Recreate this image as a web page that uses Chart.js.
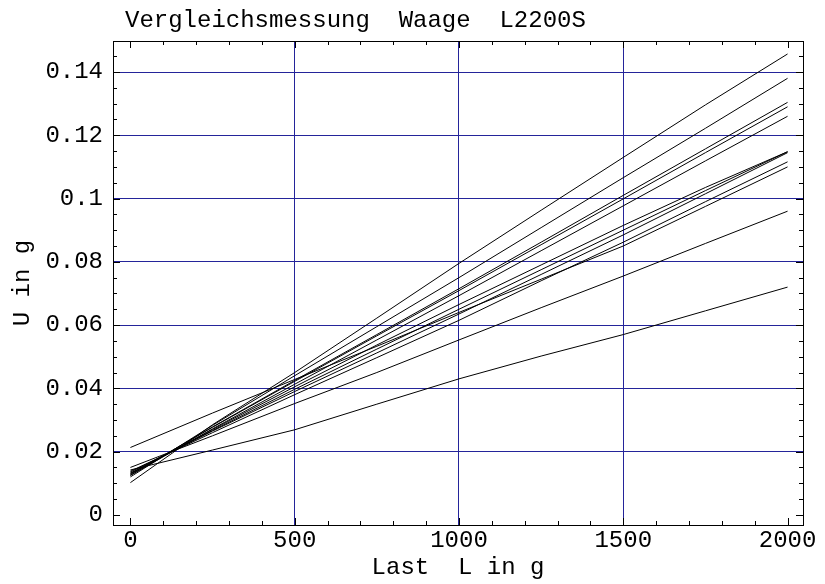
<!DOCTYPE html>
<html lang="de">
<head>
    <meta charset="UTF-8">
    <title>Vergleichsmessung Waage L2200S</title>
    <script src="https://cdn.jsdelivr.net/npm/chart.js"></script>
    <style>
        html, body { margin: 0; padding: 0; background: #fff; }
        #wrap { width: 825px; height: 584px; }
    </style>
</head>
<body>
    <div id="wrap"><canvas id="chart" width="825" height="584"></canvas></div>

    <script>
        // Messpunkte (Last in g)
        const loads = [0, 250, 500, 750, 1000, 1250, 1500, 1750, 2000];

        // Unsicherheit U in g, eine Kurve pro Messreihe
        const serieA = [0.0102, 0.0285, 0.0450, 0.0622, 0.0795, 0.0963, 0.1130, 0.1296, 0.1457];
        const serieB = [0.0120, 0.0283, 0.0440, 0.0595, 0.0750, 0.0908, 0.1066, 0.1222, 0.1380];
        const serieC = [0.0125, 0.0278, 0.0425, 0.0570, 0.0715, 0.0862, 0.1010, 0.1157, 0.1304];
        const serieD = [0.0128, 0.0277, 0.0422, 0.0566, 0.0709, 0.0854, 0.0999, 0.1145, 0.1290];
        const serieE = [0.0125, 0.0272, 0.0413, 0.0553, 0.0693, 0.0835, 0.0977, 0.1119, 0.1260];
        const serieF1 = [0.0130, 0.0270, 0.0405, 0.0537, 0.0665, 0.0790, 0.0915, 0.1035, 0.1148];
        const serieF2 = [0.0132, 0.0267, 0.0397, 0.0524, 0.0650, 0.0775, 0.0900, 0.1025, 0.1148];
        const serieF3 = [0.0135, 0.0265, 0.0390, 0.0512, 0.0635, 0.0760, 0.0885, 0.1015, 0.1145];
        const serieG = [0.0138, 0.0260, 0.0380, 0.0497, 0.0615, 0.0740, 0.0862, 0.0990, 0.1116];
        const serieH = [0.0213, 0.0322, 0.0428, 0.0533, 0.0640, 0.0745, 0.0850, 0.0975, 0.1100];
        const serieI = [0.0150, 0.0250, 0.0352, 0.0450, 0.0553, 0.0655, 0.0755, 0.0858, 0.0960];
        const serieJ = [0.0142, 0.0205, 0.0269, 0.0350, 0.0430, 0.0502, 0.0570, 0.0645, 0.0720];

        const allSeries = [serieA, serieB, serieC, serieD, serieE, serieF1, serieF2, serieF3, serieG, serieH, serieI, serieJ];

        // Achsenbeschriftung
        const xTickValues = [0, 500, 1000, 1500, 2000];
        const yTickValues = [0, 0.02, 0.04, 0.06, 0.08, 0.1, 0.12, 0.14];
        const xGridValues = [500, 1000, 1500];

        const titleText = 'Vergleichsmessung  Waage  L2200S';
        const xTitle = 'Last  L in g';
        const yTitle = 'U in g';

        const FONT = "'Courier New', 'Liberation Mono', monospace";
        const GRID = '#24249a';

        // Rahmen, Ticks nach innen und Titel
        const frameTicks = {
            id: 'frameTicks',
            afterDraw(chart) {
                const { ctx, chartArea: a, scales } = chart;
                const x = scales.x, y = scales.y;
                ctx.save();
                ctx.strokeStyle = '#000';
                ctx.lineWidth = 1;
                ctx.beginPath();
                for (let v = 0; v <= 2000; v += 100) {
                    const px = Math.round(x.getPixelForValue(v)) + 0.5;
                    const len = v % 500 === 0 ? 7 : 4;
                    ctx.moveTo(px, a.bottom); ctx.lineTo(px, a.bottom - len);
                    ctx.moveTo(px, a.top); ctx.lineTo(px, a.top + len);
                }
                for (let i = 0; i <= 29; i++) {
                    const v = i * 0.005;
                    const py = Math.round(y.getPixelForValue(v)) + 0.5;
                    const len = i % 4 === 0 ? 7 : 4;
                    ctx.moveTo(a.left, py); ctx.lineTo(a.left + len, py);
                    ctx.moveTo(a.right, py); ctx.lineTo(a.right - len, py);
                }
                ctx.stroke();
                ctx.strokeRect(Math.round(a.left) + 0.5, Math.round(a.top) + 0.5,
                    Math.round(a.right - a.left), Math.round(a.bottom - a.top));

                ctx.fillStyle = '#000';
                ctx.font = '24px ' + FONT;
                ctx.textBaseline = 'alphabetic';
                ctx.textAlign = 'left';
                ctx.fillText(titleText, 125, 27);
                ctx.restore();
            }
        };

        const ctx = document.getElementById('chart').getContext('2d');
        new Chart(ctx, {
            type: 'line',
            data: {
                datasets: allSeries.map((s, i) => ({
                    label: 'Reihe ' + (i + 1),
                    data: loads.map((l, k) => ({ x: l, y: s[k] })),
                    borderColor: '#000',
                    borderWidth: 1,
                    pointRadius: 0,
                    tension: 0,
                    fill: false
                }))
            },
            options: {
                responsive: false,
                animation: false,
                layout: { padding: { top: 41, right: 22, left: 0, bottom: 0 } },
                plugins: {
                    legend: { display: false },
                    tooltip: { enabled: false },
                    title: { display: false }
                },
                scales: {
                    x: {
                        type: 'linear',
                        min: -53,
                        max: 2047,
                        afterFit(scale) { scale.height = 59; },
                        afterBuildTicks(scale) { scale.ticks = xTickValues.map(v => ({ value: v })); },
                        border: { display: false },
                        grid: {
                            drawTicks: false,
                            color: c => xGridValues.includes(c.tick && c.tick.value) ? GRID : 'rgba(0,0,0,0)',
                            lineWidth: 1
                        },
                        ticks: {
                            padding: 1,
                            color: '#000',
                            font: { family: FONT, size: 24 },
                            maxRotation: 0,
                            callback: v => String(v)
                        },
                        title: {
                            display: true,
                            text: xTitle,
                            color: '#000',
                            font: { family: FONT, size: 24 },
                            padding: { top: 2, bottom: 2 }
                        }
                    },
                    y: {
                        type: 'linear',
                        min: -0.0032,
                        max: 0.1498,
                        afterFit(scale) { scale.width = 113; },
                        afterBuildTicks(scale) { scale.ticks = yTickValues.map(v => ({ value: v })); },
                        border: { display: false },
                        grid: {
                            drawTicks: false,
                            color: c => (c.tick && c.tick.value !== 0) ? GRID : 'rgba(0,0,0,0)',
                            lineWidth: 1
                        },
                        ticks: {
                            padding: 10,
                            color: '#000',
                            font: { family: FONT, size: 24 },
                            callback: v => v === 0 ? '0' : String(+v.toFixed(2))
                        },
                        title: {
                            display: true,
                            text: yTitle,
                            color: '#000',
                            font: { family: FONT, size: 24 },
                            padding: { top: 8, bottom: 2 }
                        }
                    }
                }
            },
            plugins: [frameTicks]
        });
    </script>
</body>
</html>
